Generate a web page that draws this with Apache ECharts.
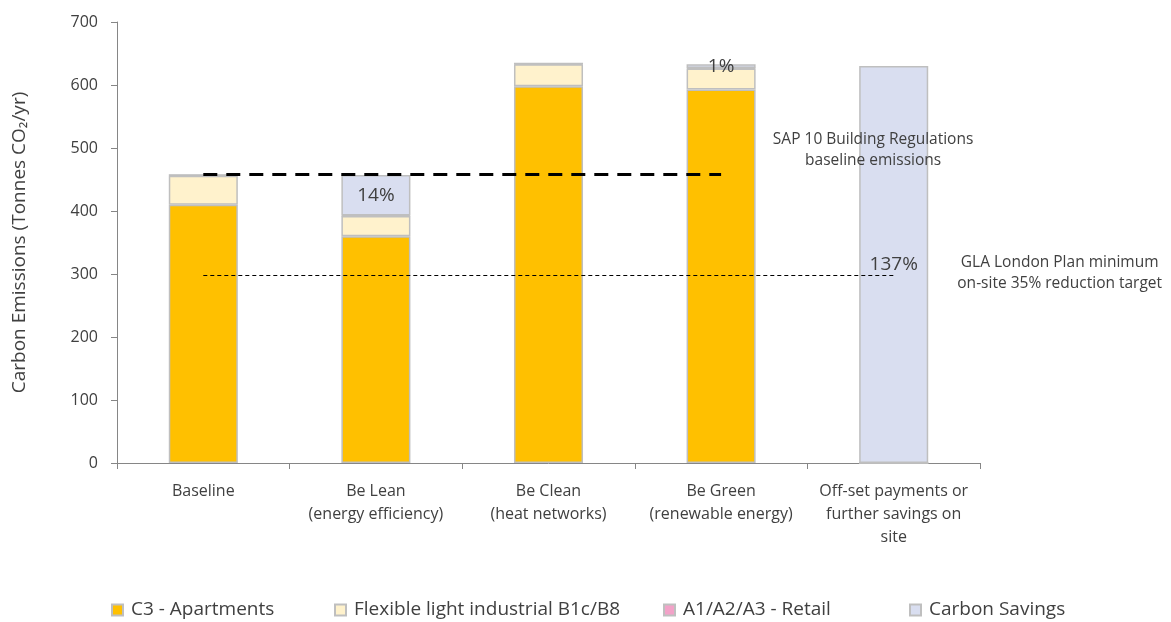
<!DOCTYPE html>
<html>
<head>
<meta charset="utf-8">
<script src="https://cdn.jsdelivr.net/npm/echarts@6/dist/echarts.min.js"></script>
<style>
  html, body { margin: 0; padding: 0; background: #fff; }
  #chart { width: 1171px; height: 622px; }
</style>
</head>
<body>
<div id="chart"></div>
<script>
// Carbon emissions by stage of the energy hierarchy (tonnes CO2 / yr)
const categories = [
  'Baseline',
  'Be Lean\n(energy efficiency)',
  'Be Clean\n(heat networks)',
  'Be Green\n(renewable energy)',
  'Off-set payments or\nfurther savings on\nsite'
];
const apartments = [410, 360, 598, 593, 0];
const flexibleIndustrial = [46, 32, 35, 33, 0];
const retail = [1, 1, 1, 1, 0];
const carbonSavings = [0, 64, 0, 6, 630];
const savingsLabels = ['', '14%', '', '1%', '137%'];

const baselineLevel = 458;     // SAP 10 baseline emissions
const targetLevel = 298;       // 35% reduction target
const yTicks = { min: 0, max: 700, interval: 100 };

const seriesNames = ['C3 - Apartments', 'Flexible light industrial B1c/B8', 'A1/A2/A3 - Retail', 'Carbon Savings'];
const legendLefts = [106, 329, 658, 904];

const FONT = '"Open Sans", "Liberation Sans", Arial, sans-serif';
const TEXT = '#404040';
const BORDER = '#BFBFBF';
const AXIS = '#868686';

const chart = echarts.init(document.getElementById('chart'));

function barSeries(name, data, color, extra) {
  return Object.assign({
    name: name,
    type: 'bar',
    stack: 'total',
    data: data,
    barWidth: '40%',
    itemStyle: { color: color, borderColor: BORDER, borderWidth: 1.5 },
    emphasis: { disabled: true }
  }, extra || {});
}

// one legend block per series so each entry sits at its own spot
const legends = seriesNames.map((n, i) => ({
  top: 596,
  left: legendLefts[i],
  padding: [2, 5, 2, 5],
  itemWidth: 11,
  itemHeight: 11,
  icon: 'rect',
  textStyle: { fontSize: 19, lineHeight: 24, color: TEXT, fontFamily: FONT, padding: [0, 0, 0, 3] },
  data: [n]
}));

chart.setOption({
  animation: false,
  textStyle: { fontFamily: FONT },
  grid: { left: 117, right: 191, top: 22, bottom: 159 },
  legend: legends,
  xAxis: {
    type: 'category',
    data: categories,
    axisLine: { lineStyle: { color: AXIS, width: 1 } },
    axisTick: { show: true, interval: 0, length: 6, lineStyle: { color: AXIS } },
    axisLabel: { interval: 0, color: TEXT, fontSize: 16, lineHeight: 23, margin: 17, fontFamily: FONT }
  },
  yAxis: {
    type: 'value',
    min: yTicks.min,
    max: yTicks.max,
    interval: yTicks.interval,
    name: 'Carbon Emissions (Tonnes CO₂/yr)',
    nameLocation: 'middle',
    nameGap: 88,
    nameTextStyle: { color: TEXT, fontSize: 19, fontFamily: FONT },
    axisLine: { show: true, lineStyle: { color: AXIS } },
    axisTick: { show: true, length: 6, lineStyle: { color: AXIS } },
    axisLabel: { color: TEXT, fontSize: 16, margin: 19, fontFamily: FONT },
    splitLine: { show: false }
  },
  series: [
    barSeries(seriesNames[0], apartments, '#FFC000'),
    barSeries(seriesNames[1], flexibleIndustrial, '#FFF2CC'),
    barSeries(seriesNames[2], retail, '#F2A2C8'),
    barSeries(seriesNames[3], carbonSavings, '#D9DEF0', {
      label: {
        show: true,
        position: 'inside',
        color: TEXT,
        fontSize: 19,
        fontFamily: FONT,
        formatter: p => savingsLabels[p.dataIndex]
      },
      markLine: {
        silent: true,
        symbol: 'none',
        label: { show: false },
        data: [
          [
            { coord: [categories[0], baselineLevel], lineStyle: { color: '#000', width: 3, type: [14, 9] } },
            { coord: [categories[3], baselineLevel] }
          ],
          [
            { coord: [categories[0], targetLevel], lineStyle: { color: '#000', width: 1.2, type: [4, 3] } },
            { coord: [categories[4], targetLevel] }
          ]
        ]
      }
    })
  ]
});

// Annotation text placed relative to the ends of the two reference lines
const sapEnd = chart.convertToPixel({ gridIndex: 0 }, [categories[3], baselineLevel]);
const glaEnd = chart.convertToPixel({ gridIndex: 0 }, [categories[4], targetLevel]);
chart.setOption({
  graphic: [
    {
      type: 'text',
      z: 100,
      x: sapEnd[0] + 152,
      y: sapEnd[1] - 24,
      style: {
        text: 'SAP 10 Building Regulations\nbaseline emissions',
        fill: TEXT,
        font: '15.5px ' + FONT,
        align: 'center',
        verticalAlign: 'middle',
        lineHeight: 21
      }
    },
    {
      type: 'text',
      z: 100,
      x: glaEnd[0] + 166,
      y: glaEnd[1] - 2,
      style: {
        text: 'GLA London Plan minimum\non-site 35% reduction target',
        fill: TEXT,
        font: '15.5px ' + FONT,
        align: 'center',
        verticalAlign: 'middle',
        lineHeight: 21
      }
    }
  ]
});
</script>
</body>
</html>
